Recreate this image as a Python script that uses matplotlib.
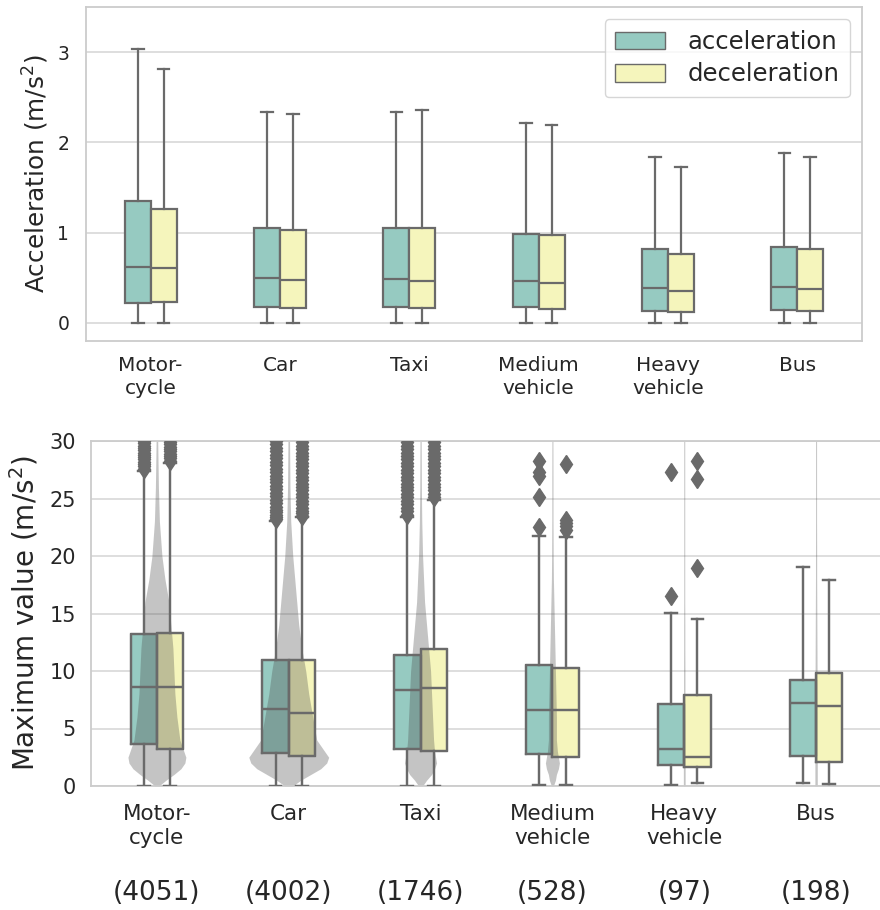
import numpy as np
import matplotlib
matplotlib.use("Agg")
import matplotlib.pyplot as plt
from matplotlib.patches import Patch

# ---------------- data ----------------
categories = ["Motor-\ncycle", "Car", "Taxi", "Medium\nvehicle", "Heavy\nvehicle", "Bus"]
counts = [4051, 4002, 1746, 528, 97, 198]
series = ["acceleration", "deceleration"]

# top panel: [whisker low, Q1, median, Q3, whisker high]
top_acc = [[0, 0.225, 0.62, 1.35, 3.04],
           [0, 0.18, 0.50, 1.05, 2.34],
           [0, 0.18, 0.49, 1.05, 2.34],
           [0, 0.174, 0.465, 0.986, 2.22],
           [0, 0.136, 0.384, 0.82, 1.84],
           [0, 0.144, 0.40, 0.84, 1.88]]
top_dec = [[0, 0.23, 0.61, 1.26, 2.81],
           [0, 0.17, 0.476, 1.03, 2.32],
           [0, 0.165, 0.47, 1.05, 2.36],
           [0, 0.15, 0.446, 0.97, 2.19],
           [0, 0.125, 0.358, 0.764, 1.73],
           [0, 0.13, 0.373, 0.816, 1.835]]

# bottom panel: [whisker low, Q1, median, Q3, whisker high]
bot_acc = [[0, 3.65, 8.64, 13.2, 27.4],
           [0, 2.9, 6.72, 10.96, 23.07],
           [0, 3.19, 8.35, 11.4, 23.4],
           [0.09, 2.75, 6.58, 10.52, 21.77],
           [0.09, 1.83, 3.19, 7.16, 15.07],
           [0.23, 2.6, 7.25, 9.22, 19.04]]
bot_dec = [[0, 3.19, 8.58, 13.28, 28.1],
           [0, 2.6, 6.38, 10.96, 23.36],
           [0, 3.07, 8.55, 11.94, 24.9],
           [0.09, 2.55, 6.58, 10.29, 21.68],
           [0.29, 1.68, 2.55, 7.88, 14.52],
           [0.15, 2.12, 6.99, 9.86, 17.9]]

# outliers (bottom panel)
out_acc = [
    [27.6, 27.8, 28.0, 28.2, 28.4, 28.6, 28.8, 29.0, 29.2, 29.4, 29.6, 29.8, 30.0, 30.4],
    [23.2, 23.4, 23.6, 23.8, 24.0, 24.3, 24.6, 24.9, 25.2, 25.5, 25.8, 26.1, 26.4, 26.7,
     27.0, 27.3, 27.6, 27.9, 28.2, 28.5, 28.8, 29.1, 29.4, 29.7, 30.0, 30.4],
    [23.6, 23.9, 24.2, 24.5, 24.8, 25.1, 25.4, 25.7, 26.0, 26.3, 26.6, 26.9, 27.2,
     27.5, 27.8, 28.1, 28.4, 28.7, 29.0, 29.3, 29.6, 29.9, 30.3],
    [22.5, 25.1, 27.0, 27.3, 28.3],
    [16.55, 27.3],
    [],
]
out_dec = [
    [28.3, 28.5, 28.7, 28.9, 29.1, 29.3, 29.5, 29.7, 29.9, 30.2],
    [23.5, 23.7, 23.9, 24.2, 24.5, 24.8, 25.1, 25.4, 25.7, 26.0, 26.3, 26.6, 26.9,
     27.2, 27.5, 27.8, 28.1, 28.4, 28.7, 29.0, 29.3, 29.6, 29.9, 30.3],
    [25.1, 25.4, 25.7, 26.0, 26.3, 26.6, 26.9, 27.2, 27.5, 27.8, 28.1, 28.4, 28.7,
     29.0, 29.3, 29.6, 29.9, 30.3],
    [22.3, 22.6, 22.9, 23.1, 28.0],
    [19.0, 26.7, 28.3],
    [],
]

# swarm density profile: relative half-width at each value level
swarm_levels = [0, 0.5, 1, 1.5, 2, 2.5, 3, 4, 6, 8, 10, 12, 14, 16, 18, 20, 23, 26, 30]
swarm_width = [
    [2, 9, 17, 24, 28, 29, 27, 23, 20, 18, 17, 16, 14, 12, 8, 5, 2.5, 1.5, 0.8],
    [4, 12, 22, 32, 38, 40, 36, 28, 24, 20, 17, 13, 10, 8, 6, 4, 2, 1.2, 0.8],
    [2, 6, 11, 14, 16, 15, 14, 13, 12, 11, 10, 8, 6, 4, 3, 2, 1.2, 0.8, 0.6],
    [1, 3, 4, 6, 7, 6, 5, 4, 4, 3.5, 3, 2.5, 2, 1.5, 1, 0.8, 0.6, 0.6, 0.5],
    [0.9, 0.9, 0.9, 0.9, 0.9, 0.9, 0.9, 0.9, 0.8, 0.7, 0.7, 0.6, 0.6, 0.5, 0.5, 0.5, 0.5, 0.5, 0.5],
    [1.2, 1.2, 1.2, 1.2, 1.2, 1.2, 1.2, 1.2, 1.2, 1.1, 1.0, 0.9, 0.8, 0.7, 0.6, 0.6, 0.5, 0.5, 0.5],
]

# ---------------- style ----------------
TEAL = "#96cac1"
YELLOW = "#f5f5bc"
EDGE = "#6a6a6a"
TXT = "#262626"
GRID = "#d4d4d4"
SPINE = "#cccccc"
SWARM_SCALE = 1 / 132.0

plt.rcParams["font.family"] = ["DejaVu Sans"]
fig = plt.figure(figsize=(8.8, 9.1), dpi=100)

ax1 = fig.add_axes([86 / 880, 1 - 341 / 910, 776 / 880, 334 / 910])
ax2 = fig.add_axes([91 / 880, 1 - 786 / 910, 791 / 880, 345 / 910])

x = np.arange(len(categories))
off = 0.1
bw = 0.2


def mkstats(vals, fl=None):
    return [dict(whislo=v[0], q1=v[1], med=v[2], q3=v[3], whishi=v[4],
                 fliers=np.array(f if f is not None else []))
            for v, f in zip(vals, fl if fl is not None else [None] * len(vals))]


def draw_boxes(ax, vals, fl, pos, color, z_face=2, edges_on_top=False):
    st = mkstats(vals, fl)
    ax.bxp(st, positions=pos, widths=bw, patch_artist=True, showfliers=fl is not None,
           manage_ticks=False, capwidths=0.09,
           boxprops=dict(facecolor=color, edgecolor=EDGE, linewidth=1.6, zorder=z_face),
           whiskerprops=dict(color=EDGE, linewidth=1.6, zorder=3),
           capprops=dict(color=EDGE, linewidth=1.6, zorder=3),
           medianprops=dict(color=EDGE, linewidth=1.6, zorder=3),
           flierprops=dict(marker="d", markerfacecolor=EDGE, markeredgecolor=EDGE,
                           markersize=9.5, linestyle="none", zorder=3))
    if edges_on_top:
        st2 = mkstats(vals, None)
        ax.bxp(st2, positions=pos, widths=bw, patch_artist=False, showfliers=False,
               manage_ticks=False, capwidths=0.09,
               boxprops=dict(color=EDGE, linewidth=1.6, zorder=3),
               whiskerprops=dict(color=EDGE, linewidth=1.6, zorder=3),
               capprops=dict(color=EDGE, linewidth=1.6, zorder=3),
               medianprops=dict(color=EDGE, linewidth=1.6, zorder=3))


def style_axes(ax):
    ax.set_facecolor("white")
    ax.set_axisbelow(True)
    ax.yaxis.grid(True, color=GRID, linewidth=1.1)
    ax.xaxis.grid(False)
    for s in ax.spines.values():
        s.set_color(SPINE)
        s.set_linewidth(1.3)
    ax.tick_params(length=0, colors=TXT)
    ax.set_xlim(-0.5, 5.5)


# ---------- top panel ----------
style_axes(ax1)
draw_boxes(ax1, top_acc, None, x - off, TEAL)
draw_boxes(ax1, top_dec, None, x + off, YELLOW)
ax1.set_ylim(-0.2, 3.5)
ax1.set_yticks([0, 1, 2, 3])
ax1.set_xticks(x)
ax1.set_xticklabels(categories, fontsize=14.5, color=TXT, linespacing=1.25)
ax1.tick_params(axis="y", labelsize=13.5, pad=12)
ax1.tick_params(axis="x", pad=11)
ax1.set_ylabel("Acceleration (m/s$^2$)", fontsize=17.8, color=TXT)
ax1.yaxis.set_label_coords(-0.045, 0.5)

handles = [Patch(facecolor=TEAL, edgecolor=EDGE, linewidth=1.0),
           Patch(facecolor=YELLOW, edgecolor=EDGE, linewidth=1.0)]
leg = ax1.legend(handles, series, loc="upper right",
                 bbox_to_anchor=((850 - 86) / 776, (341 - 19) / 334),
                 borderaxespad=0, fontsize=17.5, handlelength=2.05, handleheight=0.75,
                 handletextpad=0.9, labelspacing=0.35, borderpad=0.45,
                 frameon=True, fancybox=True, framealpha=0.8, edgecolor=SPINE)
for t in leg.get_texts():
    t.set_color(TXT)

# ---------- bottom panel ----------
style_axes(ax2)
ax2.spines["right"].set_visible(False)
draw_boxes(ax2, bot_acc, out_acc, x - off, TEAL, z_face=2, edges_on_top=True)
draw_boxes(ax2, bot_dec, out_dec, x + off, YELLOW, z_face=2, edges_on_top=True)

lv = np.array(swarm_levels)
for i, w in enumerate(swarm_width):
    hw = np.array(w) * SWARM_SCALE
    ax2.fill_betweenx(lv, x[i] - hw, x[i] + hw, color="#4a4a4a", alpha=0.32,
                      linewidth=0, zorder=2.5)

ax2.set_ylim(0, 30)
ax2.set_yticks([0, 5, 10, 15, 20, 25, 30])
ax2.set_xticks(x)
ax2.set_xticklabels(categories, fontsize=15.5, color=TXT, linespacing=1.25)
ax2.tick_params(axis="y", labelsize=15, pad=11)
ax2.tick_params(axis="x", pad=13)
ax2.set_ylabel("Maximum value (m/s$^2$)", fontsize=20, color=TXT)
ax2.yaxis.set_label_coords(-0.064, 0.5)

for i, c in enumerate(counts):
    ax2.text(x[i], -0.31, f"({c})", transform=ax2.get_xaxis_transform(),
             ha="center", va="center", fontsize=19, color=TXT)

fig.savefig("out.png", dpi=100, facecolor="white")
